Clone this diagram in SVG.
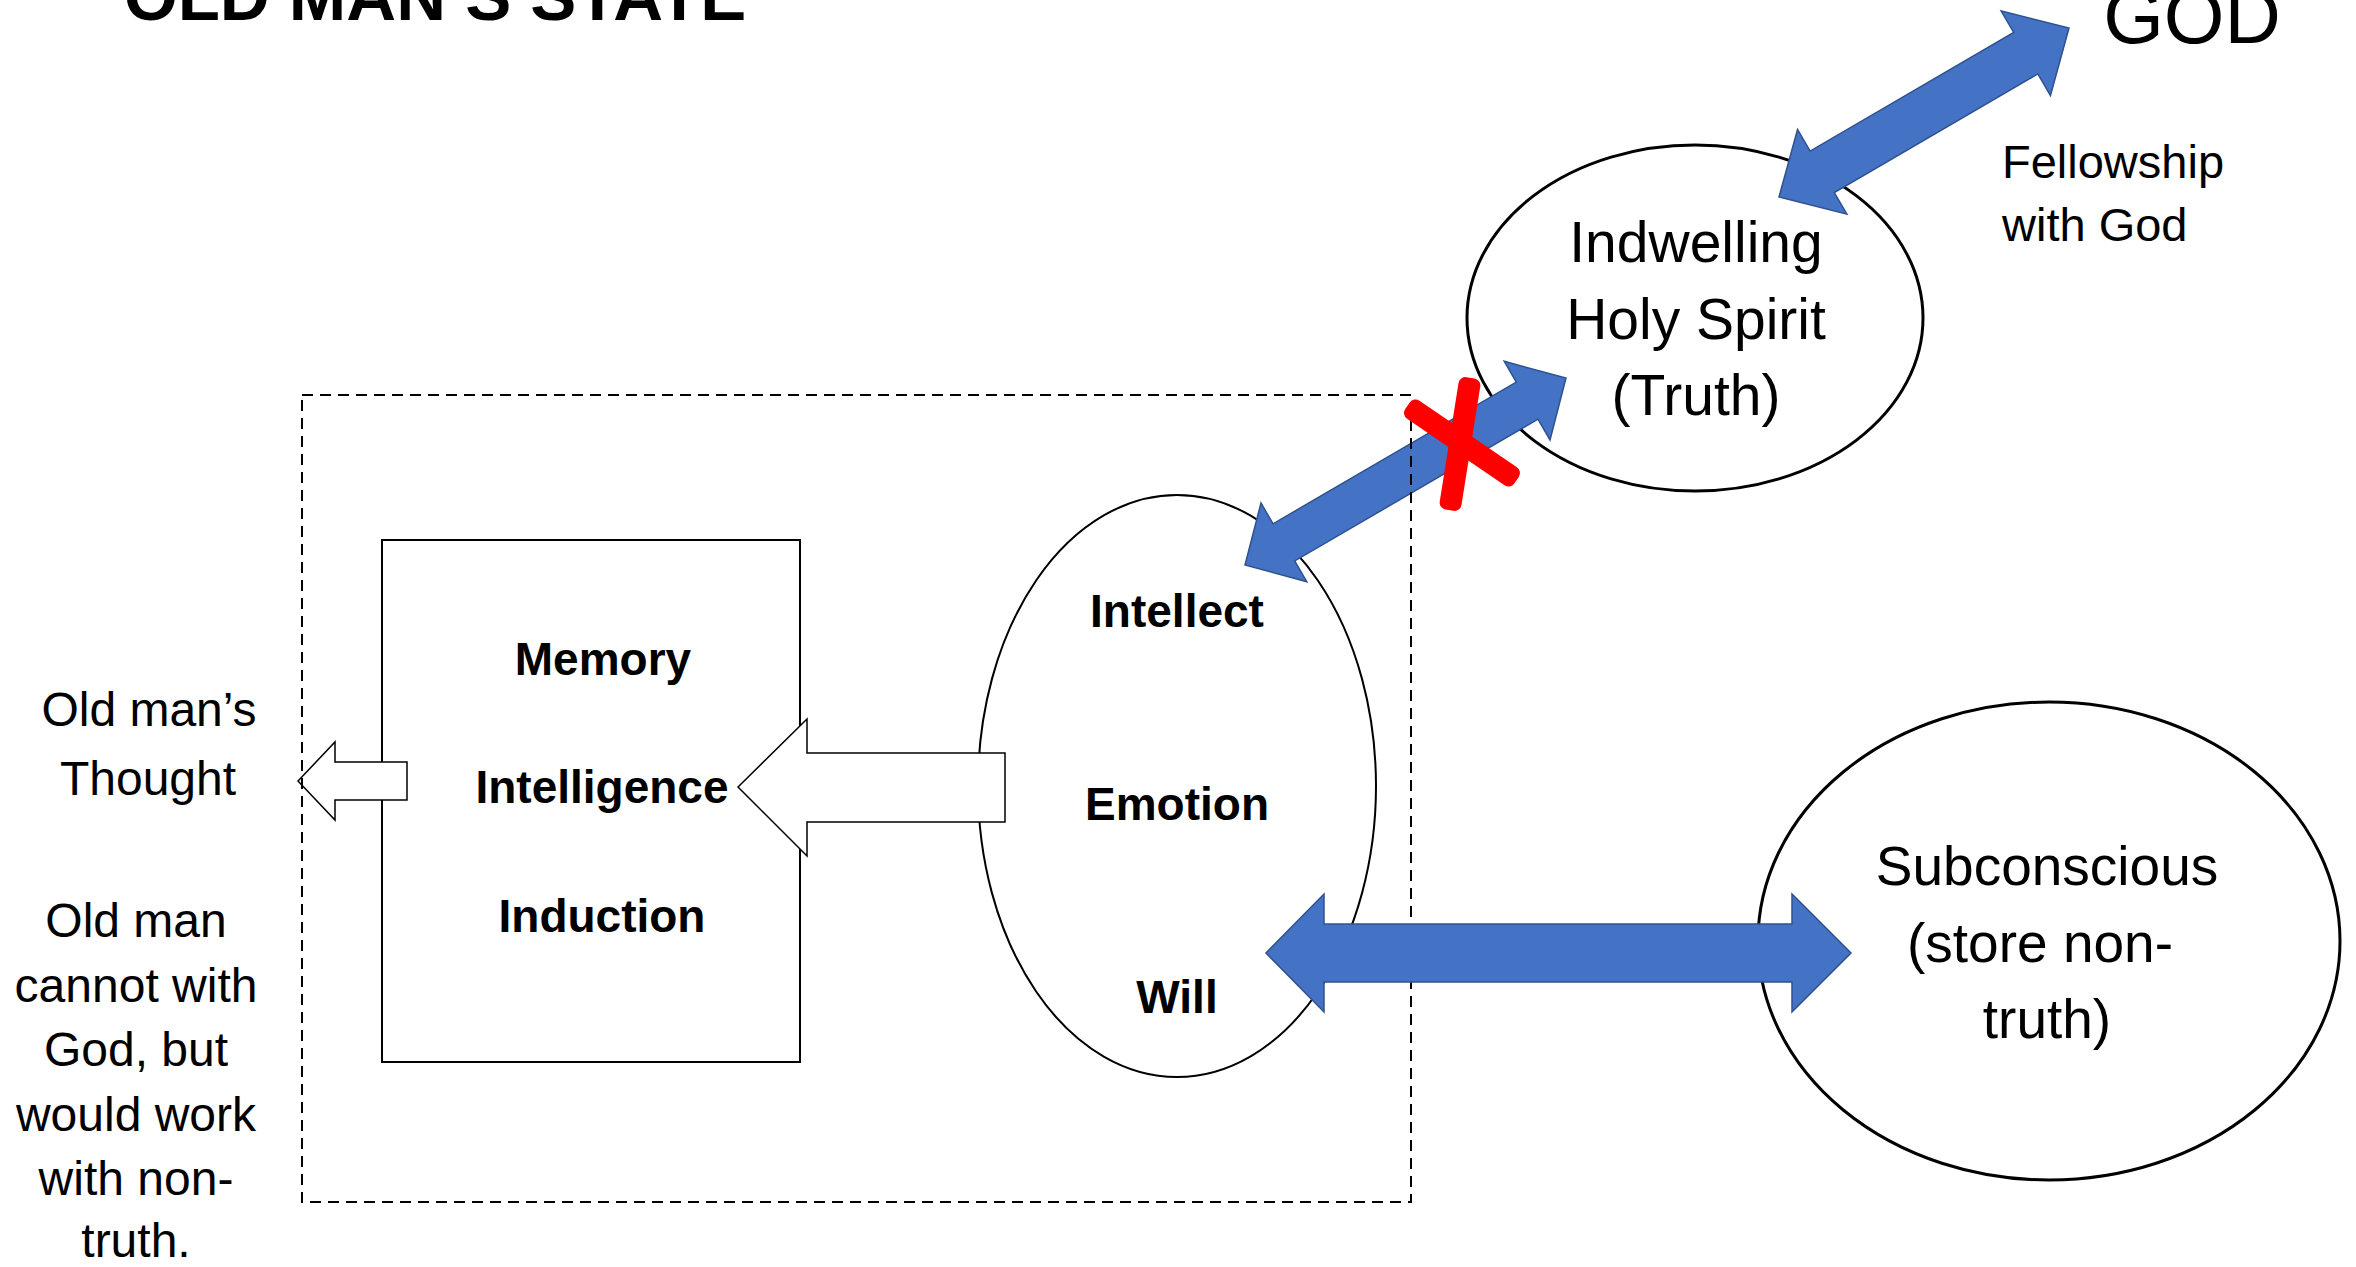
<svg xmlns="http://www.w3.org/2000/svg" width="2356" height="1267" viewBox="0 0 2356 1267">
<style>
.t{font-family:"Liberation Sans",Arial,sans-serif;fill:#000}
.b{font-family:"Liberation Sans",Arial,sans-serif;font-weight:bold;fill:#000}
.blue{fill:#4472C4;stroke:#2F528F;stroke-width:1.5}
.hollow{fill:#fff;stroke:#000;stroke-width:1.5}
.red{fill:#FF0000}
</style>
<rect width="2356" height="1267" fill="#fff"/>
<g id="title"><text class="b" x="124" y="20" font-size="69">OLD MAN’S STATE</text></g>
<g id="god"><text class="t" x="2192" y="43" font-size="78" text-anchor="middle">GOD</text></g>
<g id="fellowship-label"><text class="t" font-size="47"><tspan x="2002" y="178">Fellowship</tspan><tspan x="2002" y="241">with God</tspan></text></g>
<g id="thought-label"><text class="t" font-size="48" text-anchor="middle"><tspan x="149" y="726">Old man’s</tspan><tspan x="148" y="795">Thought</tspan></text></g>
<g id="oldman-note"><text class="t" font-size="48" text-anchor="middle"><tspan x="136" y="937">Old man</tspan><tspan x="136" y="1002">cannot with</tspan><tspan x="136" y="1066">God, but</tspan><tspan x="136" y="1131">would work</tspan><tspan x="136" y="1195">with non-</tspan><tspan x="136" y="1257">truth.</tspan></text></g>
<g id="faculties-box">
<rect x="382" y="540" width="418" height="522" fill="#fff" stroke="#000" stroke-width="2"/>
<text class="b" font-size="46" text-anchor="middle"><tspan x="603" y="675">Memory</tspan><tspan x="602" y="803">Intelligence</tspan><tspan x="602" y="932">Induction</tspan></text>
</g>
<g id="soul">
<ellipse cx="1177" cy="786" rx="199" ry="291" fill="#fff" stroke="#000" stroke-width="2"/>
<text class="b" font-size="46" text-anchor="middle"><tspan x="1177" y="627">Intellect</tspan><tspan x="1177" y="820">Emotion</tspan><tspan x="1177" y="1013">Will</tspan></text>
</g>
<g id="holy-spirit">
<ellipse cx="1695" cy="318" rx="228" ry="173" fill="#fff" stroke="#000" stroke-width="3"/>
<text class="t" font-size="57" text-anchor="middle"><tspan x="1696" y="262">Indwelling</tspan><tspan x="1696" y="339">Holy Spirit</tspan><tspan x="1696" y="415">(Truth)</tspan></text>
</g>
<g id="subconscious">
<ellipse cx="2049" cy="941" rx="291" ry="239" fill="#fff" stroke="#000" stroke-width="3"/>
<text class="t" font-size="55" text-anchor="middle"><tspan x="2047" y="885">Subconscious</tspan><tspan x="2040" y="962">(store non-</tspan><tspan x="2047" y="1038">truth)</tspan></text>
</g>
<g id="connectors">
<polygon class="hollow" points="298,781 335,742 335,762 407,762 407,800 335,800 335,820"/>
<polygon class="hollow" points="738,787 807,719 807,753 1005,753 1005,822 807,822 807,856"/>
<polygon class="blue" transform="translate(1924,112.5) rotate(-30.23)" points="-167.8,0 -117.8,-49 -117.8,-24 117.8,-24 117.8,-49 167.8,0 117.8,49 117.8,24 -117.8,24 -117.8,49"/>
<polygon class="blue" transform="translate(1405.5,471.5) rotate(-30.23)" points="-185.75,0 -140.75,-45.5 -140.75,-21.5 140.75,-21.5 140.75,-45.5 185.75,0 140.75,45.5 140.75,21.5 -140.75,21.5 -140.75,45.5"/>
</g>
<g id="old-man-boundary"><rect x="302" y="395" width="1109" height="807" fill="none" stroke="#000" stroke-width="2" stroke-dasharray="11,7"/></g>
<g id="connectors-2">
<polygon class="blue" points="1266,953 1324,894 1324,924 1792,924 1792,894 1851,953 1792,1012 1792,982 1324,982 1324,1012"/>
</g>
<g id="blocked-mark">
<rect class="red" x="-66" y="-11" width="132" height="22" rx="7" transform="translate(1462,443) rotate(34.3)"/>
<rect class="red" x="-67" y="-11" width="134" height="22" rx="7" transform="translate(1460,444) rotate(99)"/>
</g>
</svg>
